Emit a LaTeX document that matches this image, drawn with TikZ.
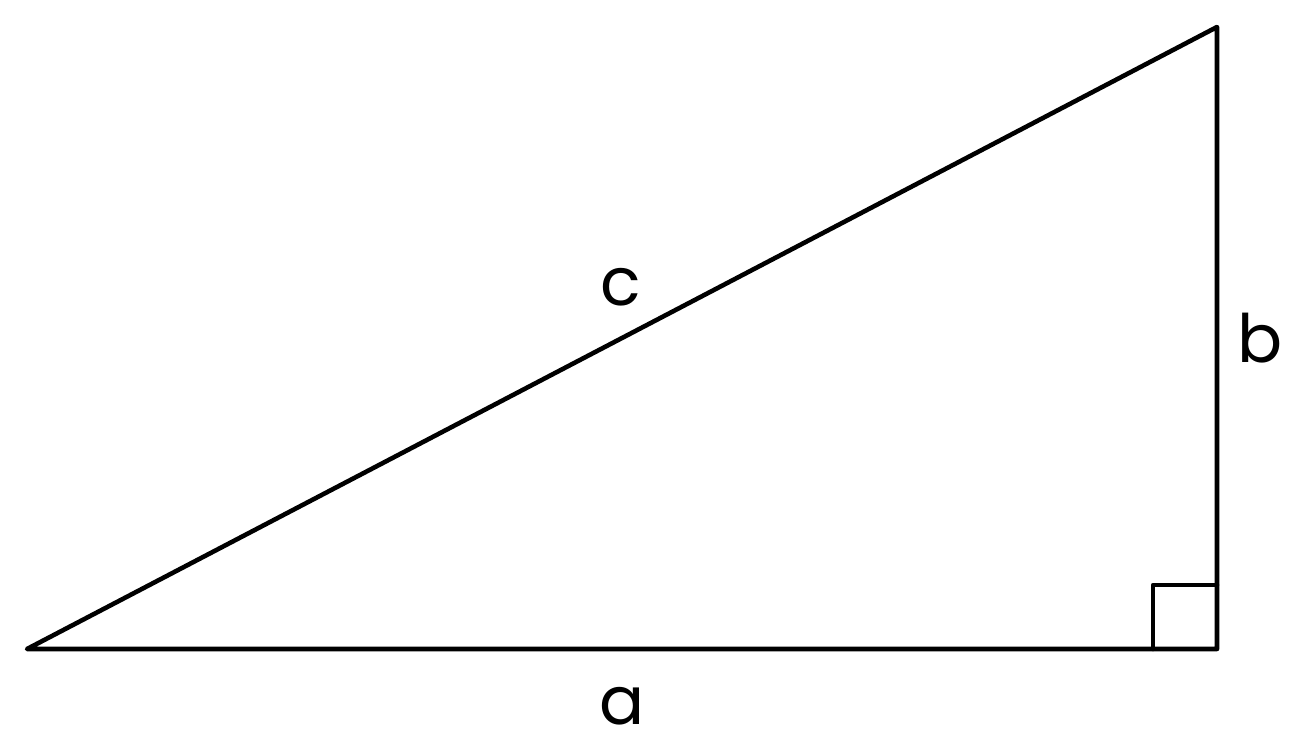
\documentclass[tikz,border=0pt]{standalone}
\usepackage{fontspec}
\setmainfont{Poppins}
\usepackage{tikz}

\tikzset{
  side/.style={line width=2.6pt, line join=round, line cap=round},
  lbl/.style={inner sep=0pt, font=\fontsize{38}{40}\selectfont}
}

\begin{document}
\begin{tikzpicture}[x=0.02cm, y=-0.02cm]
\useasboundingbox (0,0) rectangle (1300,754);

\coordinate (A) at (27,649);
\coordinate (B) at (1217,649);
\coordinate (C) at (1217,27);
\draw[side] (A) -- (B) -- (C) -- cycle;

% right angle mark
\coordinate (Ra) at (1153,649);
\coordinate (Rb) at (1153,585);
\coordinate (Rc) at (1217,585);
\draw[side] (Ra) -- (Rb) -- (Rc);

\node[lbl] (la) at (622,706) {a};
\node[lbl] (lb) at (1260,338) {b};
\node[lbl] (lc) at (621,287) {c};

\end{tikzpicture}
\end{document}
